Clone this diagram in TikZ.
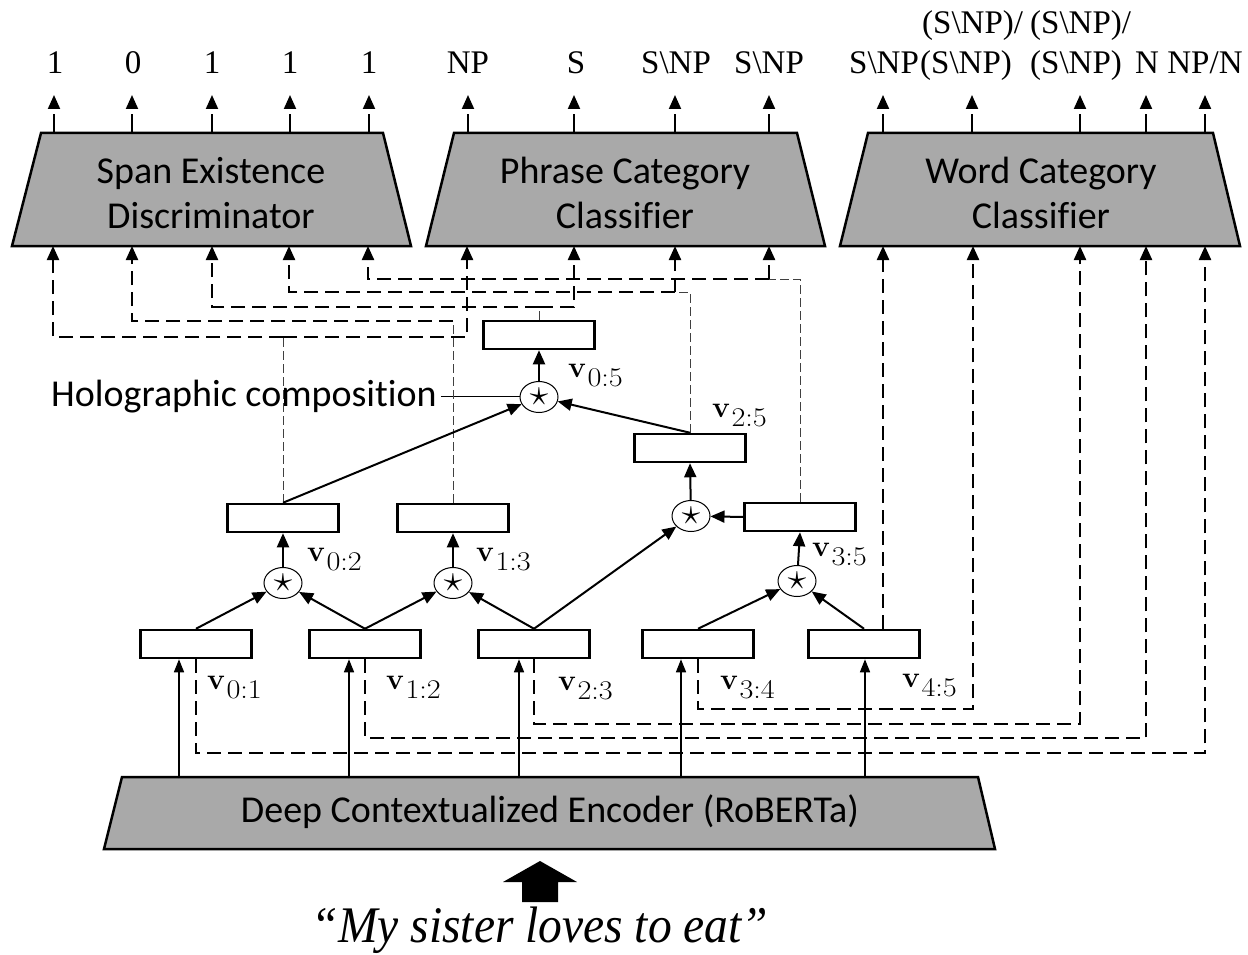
\documentclass[tikz,border=0pt]{standalone}
\usepackage{fontspec}
\newfontfamily\tms{Liberation Serif}
\newfontfamily\calfont[Ligatures=NoCommon]{Carlito}
\usetikzlibrary{arrows.meta,calc,shapes.geometric}
\definecolor{boxgray}{RGB}{169,169,169}
\newcommand\vlab[1]{{\fontsize{30}{30}\selectfont\bfseries v}\kern1.5pt\raisebox{-9pt}{\scalebox{1.12}[1]{\fontsize{27}{27}\selectfont #1}}}
\newcommand\compstar{\scalebox{1.5}{\fontsize{24.88}{25}\selectfont$\star$}}
\begin{document}
\begin{tikzpicture}[x=1pt,y=-1pt,
  tip/.style={-{Triangle[width=12pt,length=14pt]}},
  arr/.style={tip, line width=2pt},
  encarr/.style={-{Triangle[width=10pt,length=13pt]}, line width=1.5pt},
  wire/.style={line width=2.2pt, dash pattern=on 14pt off 7pt},
  wirearr/.style={wire, tip},
  thinwire/.style={line width=1pt, dash pattern=on 9pt off 4pt, draw=black!75},
  vbox/.style={draw, line width=2.5pt, minimum width=111pt, minimum height=28pt, inner sep=0pt, fill=white},
  comp/.style={draw, ellipse, line width=1pt, minimum width=38pt, minimum height=31pt, inner sep=0pt, fill=white},
  trap/.style={draw, line width=2.5pt, fill=boxgray, line join=miter},
  boxtext/.style={font=\calfont\fontsize{38}{45}\selectfont, align=center, inner sep=0pt},
  lab/.style={font=\tms\fontsize{33}{40}\selectfont, inner sep=0pt, anchor=base},
  labw/.style={lab, anchor=base west},
  vl/.style={anchor=base west, inner sep=0pt},
  outarr/.style={tip, line width=2pt, dash pattern=on 19pt off 6pt},
]
\fill[white] (0,0) rectangle (1248,955);
\useasboundingbox (0,0) rectangle (1248,955);

% ---------- classifier boxes ----------
\draw[trap] (41,133) -- (383,133) -- (411,246) -- (12,246) -- cycle;
\node[boxtext] (spanT) at (211,193) {Span Existence\\Discriminator};
\draw[trap] (454,133) -- (797,133) -- (825,246) -- (426,246) -- cycle;
\node[boxtext] (phrT) at (625,193) {Phrase Category\\Classifier};
\draw[trap] (868,133) -- (1213,133) -- (1240,246) -- (840,246) -- cycle;
\node[boxtext] (wordT) at (1041,193) {Word Category\\Classifier};
\draw[trap] (122,777) -- (978,777) -- (995,849) -- (104,849) -- cycle;
\node[boxtext, anchor=base] (encT) at (550,822) {Deep Contextualized Encoder (RoBERTa)};

% ---------- output arrows and labels ----------
\foreach \x [count=\i] in {54,132,212,290,369,468,574,675,769,883,972,1080,1146,1205}{
  \coordinate (ob\i) at (\x,133);
  \coordinate (ot\i) at (\x,95);
  \draw[outarr] (ob\i) -- (ot\i);
}
\node[lab] (o1) at (55,74) {1};
\node[lab] (o2) at (133,74) {0};
\node[lab] (o3) at (212,74) {1};
\node[lab] (o4) at (290,74) {1};
\node[lab] (o5) at (369,74) {1};
\node[lab] (o6) at (468,74) {NP};
\node[lab] (o7) at (576,74) {S};
\node[lab] (o8) at (676,74) {S\textbackslash NP};
\node[lab] (o9) at (769,74) {S\textbackslash NP};
\node[lab] (o10) at (884,74) {S\textbackslash NP};
\node[labw] (o11a) at (922,34) {(S\textbackslash NP)/};
\node[labw] (o11b) at (920,74) {(S\textbackslash NP)};
\node[labw] (o12a) at (1030,34) {(S\textbackslash NP)/};
\node[labw] (o12b) at (1030,74) {(S\textbackslash NP)};
\node[lab] (o13) at (1147,74) {N};
\node[lab] (o14) at (1205,74) {NP/N};

% ---------- input coordinates of the classifiers ----------
\foreach \x [count=\i] in {53,132,212,289,368}{\coordinate (in\i) at (\x,246);}
\foreach \x [count=\i] in {467,574,675,769}{\coordinate (pin\i) at (\x,246);}
\foreach \x [count=\i] in {883,973,1080,1146,1205}{\coordinate (win\i) at (\x,246);}

% ---------- tree nodes ----------
\node[vbox] (v01) at (196,644) {};
\node[vbox] (v12) at (365,644) {};
\node[vbox] (v23) at (534,644) {};
\node[vbox] (v34) at (698,644) {};
\node[vbox] (v45) at (864,644) {};
\node[comp] (c02) at (283,583) {\compstar};
\node[comp] (c13) at (453,583) {\compstar};
\node[comp] (c35) at (797,581) {\compstar};
\node[vbox] (v02) at (283,518) {};
\node[vbox] (v13) at (453,518) {};
\node[vbox] (v35) at (800,517) {};
\node[comp] (c25) at (691,516) {\compstar};
\node[vbox] (v25) at (690,448) {};
\node[comp] (c05) at (539,397) {\compstar};
\node[vbox] (v05) at (539,335) {};

% ---------- labels ----------
\node[vl] (l01) at (207,689) {\vlab{0:1}};
\node[vl] (l12) at (386,689) {\vlab{1:2}};
\node[vl] (l23) at (558,690) {\vlab{2:3}};
\node[vl] (l34) at (720,689) {\vlab{3:4}};
\node[vl] (l45) at (902,687) {\vlab{4:5}};
\node[vl] (l02) at (307,561) {\vlab{0:2}};
\node[vl] (l13) at (476,561) {\vlab{1:3}};
\node[vl] (l35) at (812,556) {\vlab{3:5}};
\node[vl] (l25) at (712,417) {\vlab{2:5}};
\node[vl] (l05) at (568,377) {\vlab{0:5}};
\node[font=\calfont\fontsize{38}{45}\selectfont, anchor=base west, inner sep=4pt] (holo) at (47,406) {Holographic composition};
\draw[line width=1pt] (holo.east) -- (holo.east -| c05.west);

% ---------- span / phrase wiring ----------
\coordinate (j02) at (283,337);
\coordinate (j13) at (453,321);
\coordinate (j05) at (539,307);
\coordinate (j25) at (675,292);
\coordinate (j35) at (769,279);
\draw[thinwire] (v02.north) -- (j02);
\draw[thinwire] (v13.north) -- (j13);
\draw[thinwire] (v05.north) -- (j05);
\draw[thinwire] (v25.north) |- (j25);
\draw[thinwire] (v35.north) |- (j35);
\draw[wirearr] (j02) -| (in1);
\draw[wirearr] (j02) -| (pin1);
\draw[wirearr] (j13) -| (in2);
\draw[wirearr] (j05) -| (in3);
\draw[wirearr] (j05) -| (pin2);
\draw[wirearr] (j25) -| (in4);
\draw[wirearr] (j25) -- (pin3);
\draw[wirearr] (j35) -| (in5);
\draw[wirearr] (j35) -- (pin4);

% ---------- word wiring ----------
\draw[wirearr] ($(v45.north)+(19,0)$) -- (win1);
\draw[wirearr] (v34.south) -- ++(0,50) -| (win2);
\draw[wirearr] (v23.south) -- ++(0,65) -| (win3);
\draw[wirearr] (v12.south) -- ++(0,79) -| (win4);
\draw[wirearr] (v01.south) -- ++(0,94) -| (win5);

% ---------- encoder arrows ----------
\foreach \n/\dx in {v01/-17,v12/-16,v23/-15,v34/-17,v45/1}{
  \coordinate (e\n) at ($(\n.south)+(\dx,119)$);
  \draw[encarr] (e\n) -- ($(\n.south)+(\dx,0)$);
}

% ---------- tree arrows ----------
\draw[arr] (v01.north) -- (c02);
\draw[arr] (v12.north) -- (c02);
\draw[arr] (v12.north) -- (c13);
\draw[arr] (v23.north) -- (c13);
\draw[arr] (v23.north) -- (c25);
\draw[arr] (v34.north) -- (c35);
\draw[arr] (v45.north) -- (c35);
\draw[arr] (c02) -- (v02.south);
\draw[arr] (c13) -- (v13.south);
\draw[arr] (c35) -- (v35.south);
\draw[arr] (v35.west) -- (c25);
\draw[arr] (c25) -- (v25.south);
\draw[arr] (v02.north) -- (c05);
\draw[arr] (v25.north) -- (c05);
\draw[arr] (c05) -- (v05.south);

% ---------- input ----------
\fill (540,861) -- (577,882) -- (558,882) -- (558,902) -- (522,902) -- (522,882) -- (503,882) -- cycle;
\node[font=\tms\itshape\fontsize{47.5}{50}\selectfont, anchor=base, inner sep=0pt] (quote) at (540,942) {\scalebox{1}[1.08]{“My sister loves to eat”}};
\end{tikzpicture}
\end{document}
